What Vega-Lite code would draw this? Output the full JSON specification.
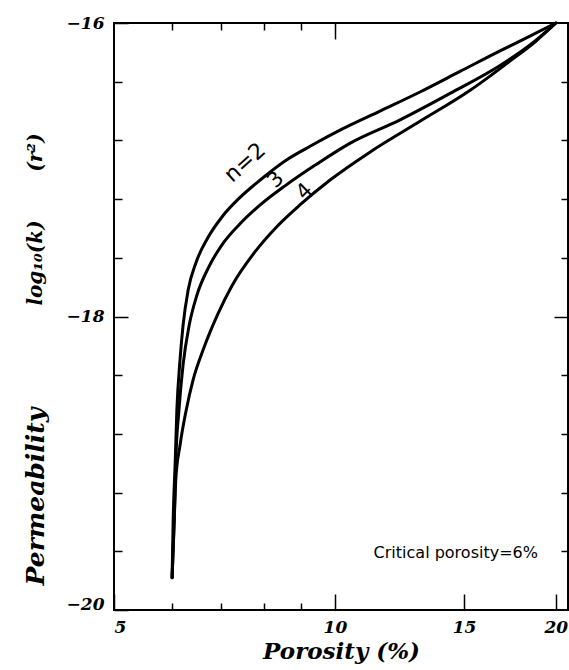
{
  "$schema": "https://vega.github.io/schema/vega-lite/v6.json",
  "width": 454,
  "height": 587,
  "autosize": {"type": "none"},
  "padding": {"left": 114, "top": 23, "right": 1, "bottom": 60},
  "background": "white",
  "config": {
    "view": {"stroke": "black", "strokeWidth": 2},
    "axis": {
      "domain": false,
      "grid": false,
      "tickColor": "black",
      "tickWidth": 1.5,
      "labelFont": "DejaVu Serif",
      "labelFontWeight": "bold",
      "labelFontStyle": "italic",
      "labelFontSize": 17,
      "labelColor": "black",
      "titleFont": "DejaVu Serif",
      "titleFontWeight": "bold",
      "titleFontStyle": "italic",
      "titleFontSize": 23,
      "titleColor": "black"
    }
  },
  "datasets": {
    "curves": [
      {"phi": 6.00, "logk": -19.78, "n": 2},
      {"phi": 6.02, "logk": -19.39, "n": 2},
      {"phi": 6.06, "logk": -18.98, "n": 2},
      {"phi": 6.09, "logk": -18.64, "n": 2},
      {"phi": 6.15, "logk": -18.30, "n": 2},
      {"phi": 6.21, "logk": -18.06, "n": 2},
      {"phi": 6.31, "logk": -17.82, "n": 2},
      {"phi": 6.47, "logk": -17.63, "n": 2},
      {"phi": 6.70, "logk": -17.47, "n": 2},
      {"phi": 7.02, "logk": -17.32, "n": 2},
      {"phi": 7.42, "logk": -17.19, "n": 2},
      {"phi": 7.91, "logk": -17.07, "n": 2},
      {"phi": 8.55, "logk": -16.94, "n": 2},
      {"phi": 9.25, "logk": -16.84, "n": 2},
      {"phi": 10.16, "logk": -16.73, "n": 2},
      {"phi": 11.52, "logk": -16.60, "n": 2},
      {"phi": 13.06, "logk": -16.47, "n": 2},
      {"phi": 14.81, "logk": -16.33, "n": 2},
      {"phi": 16.79, "logk": -16.19, "n": 2},
      {"phi": 18.44, "logk": -16.09, "n": 2},
      {"phi": 20.00, "logk": -16.00, "n": 2},
      {"phi": 6.00, "logk": -19.78, "n": 3},
      {"phi": 6.04, "logk": -19.39, "n": 3},
      {"phi": 6.07, "logk": -18.98, "n": 3},
      {"phi": 6.13, "logk": -18.64, "n": 3},
      {"phi": 6.21, "logk": -18.33, "n": 3},
      {"phi": 6.33, "logk": -18.06, "n": 3},
      {"phi": 6.49, "logk": -17.85, "n": 3},
      {"phi": 6.72, "logk": -17.67, "n": 3},
      {"phi": 7.02, "logk": -17.51, "n": 3},
      {"phi": 7.42, "logk": -17.37, "n": 3},
      {"phi": 7.91, "logk": -17.24, "n": 3},
      {"phi": 8.55, "logk": -17.11, "n": 3},
      {"phi": 9.39, "logk": -16.97, "n": 3},
      {"phi": 10.48, "logk": -16.82, "n": 3},
      {"phi": 12.27, "logk": -16.66, "n": 3},
      {"phi": 14.35, "logk": -16.48, "n": 3},
      {"phi": 16.79, "logk": -16.29, "n": 3},
      {"phi": 18.44, "logk": -16.15, "n": 3},
      {"phi": 20.00, "logk": -16.00, "n": 3},
      {"phi": 6.00, "logk": -19.78, "n": 4},
      {"phi": 6.04, "logk": -19.39, "n": 4},
      {"phi": 6.07, "logk": -19.11, "n": 4},
      {"phi": 6.15, "logk": -18.88, "n": 4},
      {"phi": 6.27, "logk": -18.64, "n": 4},
      {"phi": 6.41, "logk": -18.43, "n": 4},
      {"phi": 6.61, "logk": -18.23, "n": 4},
      {"phi": 6.93, "logk": -17.98, "n": 4},
      {"phi": 7.24, "logk": -17.79, "n": 4},
      {"phi": 7.78, "logk": -17.56, "n": 4},
      {"phi": 8.29, "logk": -17.40, "n": 4},
      {"phi": 8.96, "logk": -17.24, "n": 4},
      {"phi": 9.85, "logk": -17.07, "n": 4},
      {"phi": 11.16, "logk": -16.88, "n": 4},
      {"phi": 13.06, "logk": -16.67, "n": 4},
      {"phi": 15.27, "logk": -16.46, "n": 4},
      {"phi": 17.32, "logk": -16.26, "n": 4},
      {"phi": 18.73, "logk": -16.13, "n": 4},
      {"phi": 20.00, "logk": -16.00, "n": 4}
    ],
    "notes": [
      {"phi": 7.54, "logk": -16.95, "label": "n=2", "group": "n2"},
      {"phi": 8.31, "logk": -17.07, "label": "3", "group": "n34"},
      {"phi": 9.10, "logk": -17.15, "label": "4", "group": "n34"},
      {"phi": 18.91, "logk": -19.61, "label": "Critical porosity=6%", "group": "crit"}
    ]
  },
  "resolve": {"axis": {"x": "independent", "y": "independent"}},
  "layer": [
    {
      "data": {"name": "curves"},
      "mark": {"type": "line", "color": "black", "strokeWidth": 3, "interpolate": "monotone", "strokeCap": "round"},
      "encoding": {
        "x": {
          "field": "phi", "type": "quantitative",
          "scale": {"type": "log", "domain": [5, 20.78], "nice": false},
          "axis": {"orient": "bottom", "values": [5, 10, 15, 20], "tickSize": -16, "labelPadding": 25, "format": "d", "title": "Porosity (%)", "titlePadding": 5}
        },
        "y": {
          "field": "logk", "type": "quantitative",
          "scale": {"domain": [-20, -16], "nice": false, "zero": false},
          "axis": {
            "orient": "left", "values": [-16, -18, -20], "tickSize": -14, "labelPadding": 24, "format": "d",
            "labelOffset": {"condition": {"test": "datum.value === -20", "value": -6}, "value": 0},
            "title": "Permeability", "titleFontSize": 25, "titleX": -79, "titleY": 473, "titleBaseline": "middle", "titleAlign": "center", "titleAngle": -90
          }
        },
        "detail": {"field": "n", "type": "nominal"}
      }
    },
    {
      "data": {"name": "notes"},
      "transform": [{"filter": "datum.group === 'n2'"}],
      "mark": {"type": "text", "font": "DejaVu Sans", "fontSize": 22, "angle": -42, "color": "black", "align": "center", "baseline": "middle"},
      "encoding": {
        "x": {"field": "phi", "type": "quantitative", "axis": {"orient": "bottom", "values": [6, 7, 8, 9], "tickSize": -7, "labels": false, "title": null}},
        "y": {"field": "logk", "type": "quantitative", "axis": {"orient": "left", "values": [-16.4, -16.8, -17.2, -17.6, -18.4, -18.8, -19.2, -19.6], "tickSize": -8, "labels": false, "title": "log\u2081\u2080(k)\u00a0\u00a0\u00a0\u00a0\u00a0\u00a0\u00a0(r\u00b2)", "titleFontSize": 20, "titleX": -79, "titleY": 196, "titleBaseline": "middle", "titleAlign": "center", "titleAngle": -90}},
        "text": {"field": "label"}
      }
    },
    {
      "data": {"name": "notes"},
      "transform": [{"filter": "datum.group === 'n34'"}],
      "mark": {"type": "text", "font": "DejaVu Sans", "fontSize": 21, "angle": -45, "color": "black", "align": "center", "baseline": "middle"},
      "encoding": {
        "x": {"field": "phi", "type": "quantitative", "axis": {"orient": "top", "values": [10], "tickSize": -16, "labels": false, "title": null}},
        "y": {"field": "logk", "type": "quantitative", "axis": {"orient": "right", "values": [-18], "tickSize": -14, "labels": false, "title": null}},
        "text": {"field": "label"}
      }
    },
    {
      "data": {"name": "notes"},
      "transform": [{"filter": "datum.group === 'crit'"}],
      "mark": {"type": "text", "font": "DejaVu Sans", "fontSize": 16, "color": "black", "align": "right", "baseline": "middle"},
      "encoding": {
        "x": {"field": "phi", "type": "quantitative", "axis": {"orient": "top", "values": [6, 7, 8, 9], "tickSize": -7, "labels": false, "title": null}},
        "y": {"field": "logk", "type": "quantitative", "axis": {"orient": "right", "values": [-16.4, -16.8, -17.2, -17.6, -18.4, -18.8, -19.2, -19.6], "tickSize": -7, "labels": false, "title": null}},
        "text": {"field": "label"}
      }
    }
  ]
}
